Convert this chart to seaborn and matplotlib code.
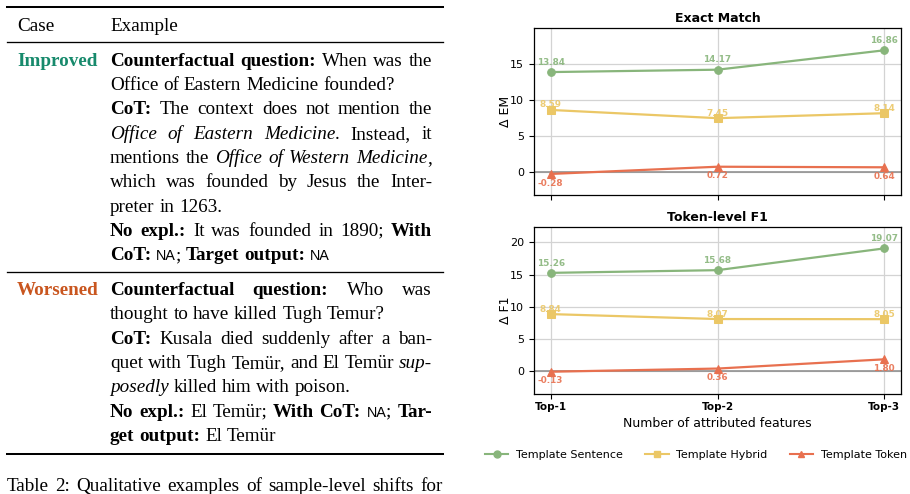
import numpy as np
import pandas as pd
import matplotlib
matplotlib.use("Agg")
import matplotlib.pyplot as plt
from matplotlib.lines import Line2D
import seaborn as sns

# ---------------- data ----------------
cats = ["Top-1", "Top-2", "Top-3"]
series = ["Template Sentence", "Template Hybrid", "Template Token"]
em_sentence = [13.84, 14.17, 16.86]
em_hybrid = [8.59, 7.45, 8.14]
em_token = [-0.28, 0.72, 0.64]
f1_sentence = [15.26, 15.68, 19.07]
f1_hybrid = [8.84, 8.07, 8.05]
f1_token = [-0.13, 0.36, 1.80]

table_header = ["Case", "Example"]
row_cases = ["Improved", "Worsened"]
row1_lines = [
    ("**Counterfactual question:** When was the", True),
    ("Office of Eastern Medicine founded?", False),
    ("**CoT:** The context does not mention the", True),
    ("_Office of Eastern Medicine_. Instead, it", True),
    ("mentions the _Office of Western Medicine_,", True),
    ("which was founded by Jesus the Inter-", True),
    ("preter in 1263.", False),
    ("**No expl.:** It was founded in 1890; **With**", True),
    ("**CoT:** `NA`; **Target output:** `NA`", False),
]
row2_lines = [
    ("**Counterfactual question:** Who was", True),
    ("thought to have killed Tugh Temur?", False),
    ("**CoT:** Kusala died suddenly after a ban-", True),
    ("quet with Tugh Temür, and El Temür _sup-_", True),
    ("_posedly_ killed him with poison.", False),
    ("**No expl.:** El Temür; **With CoT:** `NA`; **Tar-**", True),
    ("**get output:** El Temür", False),
]
caption = "Table 2: Qualitative examples of sample-level shifts for"

# ---------------- figure ----------------
W, H = 910, 494
fig = plt.figure(figsize=(W / 100, H / 100), dpi=100)
renderer = fig.canvas.get_renderer()

def fx(px):
    return px / W

def fy(py):
    return 1 - py / H

# ---------------- table ----------------
BODY = 13.8
SERIF = "Liberation Serif"

def kw(st):
    d = dict(fontsize=BODY, family=SERIF, color="black")
    if "b" in st:
        d["fontweight"] = "bold"
    if "i" in st:
        d["fontstyle"] = "italic"
    if "s" in st:
        d.update(family="Liberation Sans", fontsize=10.4, fontweight="normal", fontstyle="normal")
    return d

def parse(line):
    words, cur, piece = [], [], ""
    bold = ital = sans = False
    def style():
        return ("b" if bold else "") + ("i" if ital else "") + ("s" if sans else "")
    i = 0
    while i < len(line):
        if line.startswith("**", i):
            if piece:
                cur.append((piece, style())); piece = ""
            bold = not bold; i += 2; continue
        c = line[i]
        if c in "_`":
            if piece:
                cur.append((piece, style())); piece = ""
            if c == "_":
                ital = not ital
            else:
                sans = not sans
            i += 1; continue
        if c == " ":
            if piece:
                cur.append((piece, style())); piece = ""
            if cur:
                words.append(cur); cur = []
            i += 1; continue
        piece += c
        i += 1
    if piece:
        cur.append((piece, style()))
    if cur:
        words.append(cur)
    return words

SPACE = 0.25 * BODY * 100 / 72

def place_line(line, yb, justify, x0=110, x1=432):
    words = parse(line)
    arts, widths = [], []
    for w in words:
        parts, tot = [], 0
        for txt, st in w:
            t = fig.text(0, 0, txt, va="baseline", ha="left", **kw(st))
            wd = t.get_window_extent(renderer).width
            parts.append((t, wd)); tot += wd
        arts.append(parts); widths.append(tot)
    if justify and len(words) > 1:
        gap = (x1 - x0 - sum(widths)) / (len(words) - 1)
    else:
        gap = SPACE
    x = x0
    for parts, wtot in zip(arts, widths):
        for t, wd in parts:
            t.set_position((fx(x), fy(yb)))
            x += wd
        x += gap

def rule(y, lw):
    fig.add_artist(Line2D([fx(7), fx(443)], [fy(y), fy(y)], color="black", lw=lw,
                          transform=fig.transFigure))

rule(7, 1.45)
rule(42.5, 0.95)
rule(272, 0.95)
rule(453.5, 1.45)

fig.text(fx(17), fy(30.7), table_header[0], va="baseline", ha="left", **kw(""))
fig.text(fx(110), fy(30.7), table_header[1], va="baseline", ha="left", **kw(""))

case_colors = ["#178a6c", "#c9561f"]
LS = 24.3
for case, col, lines, y0 in [(row_cases[0], case_colors[0], row1_lines, 65.7),
                             (row_cases[1], case_colors[1], row2_lines, 295.0)]:
    d = kw("b"); d["color"] = col
    fig.text(fx(17), fy(y0), case, va="baseline", ha="left", **d)
    for k, (ln, just) in enumerate(lines):
        place_line(ln, y0 + k * LS, just)

place_line(caption, 490.7, True, x0=7, x1=443)

# ---------------- charts ----------------
palette = {"Template Sentence": "#88b57b", "Template Hybrid": "#ebc766", "Template Token": "#e8704f"}
markers = {"Template Sentence": "o", "Template Hybrid": "s", "Template Token": "^"}
offsets = {"Template Sentence": 7.0, "Template Hybrid": 3.6, "Template Token": -6.6}

def make_df(vals):
    rows = []
    for s, v in zip(series, vals):
        for i, c in enumerate(cats):
            rows.append(dict(series=s, cat=c, pos=cats.index(c), value=v[i]))
    return pd.DataFrame(rows)

df_em = make_df([em_sentence, em_hybrid, em_token])
df_f1 = make_df([f1_sentence, f1_hybrid, f1_token])

ax1 = fig.add_axes([fx(534), fy(195), (901 - 534) / W, (195 - 28) / H])
ax2 = fig.add_axes([fx(534), fy(394), (901 - 534) / W, (394 - 227) / H])

for ax, df, title, ylab, ylim in [(ax1, df_em, "Exact Match", "Δ EM", (-3.2, 19.95)),
                                  (ax2, df_f1, "Token-level F1", "Δ F1", (-3.6, 22.4))]:
    ax.axhline(0, color="#8a8a8a", lw=1.1, zorder=1)
    sns.lineplot(data=df, x="pos", y="value", hue="series", style="series",
                 hue_order=series, style_order=series, palette=palette,
                 markers=markers, dashes=False, linewidth=1.6, markersize=5.5,
                 legend=False, ax=ax, zorder=3)
    for ln in ax.lines[1:]:
        ln.set_markeredgecolor(ln.get_color())
    for _, r in df.iterrows():
        ax.annotate(f"{r['value']:.2f}", (r["pos"], r["value"]), xytext=(0, offsets[r["series"]]),
                    textcoords="offset points", ha="center", va="center",
                    fontsize=6.4, fontweight="bold", color=palette[r["series"]], alpha=0.9, zorder=4)
    ax.set_xlim(-0.1, 2.1)
    ax.set_ylim(*ylim)
    ax.set_xticks(range(len(cats)))
    ax.grid(True, color="#d3d3d3", lw=0.9, zorder=0)
    ax.set_axisbelow(True)
    ax.set_title(title, fontsize=9, fontweight="bold", pad=4)
    ax.set_ylabel(ylab, fontsize=9, labelpad=-1)
    ax.tick_params(labelsize=8, length=3.5, width=0.8)
    ax.tick_params(axis="x", pad=2)
    for sp in ax.spines.values():
        sp.set_linewidth(0.9)

ax1.set_xticklabels([])
ax1.set_xlabel("")
ax2.set_xticklabels(cats, fontweight="bold", fontsize=7.5)
ax2.set_xlabel("Number of attributed features", fontsize=9, labelpad=4)

handles = [Line2D([], [], color=palette[s], marker=markers[s], lw=1.5, markersize=5,
                  markeredgecolor=palette[s]) for s in series]
fig.legend(handles, series, loc="center", bbox_to_anchor=(fx(696), fy(455)), ncol=3,
           frameon=False, fontsize=8, handlelength=2.1, handletextpad=0.7, columnspacing=2.0)

fig.savefig("out.png", dpi=100)
